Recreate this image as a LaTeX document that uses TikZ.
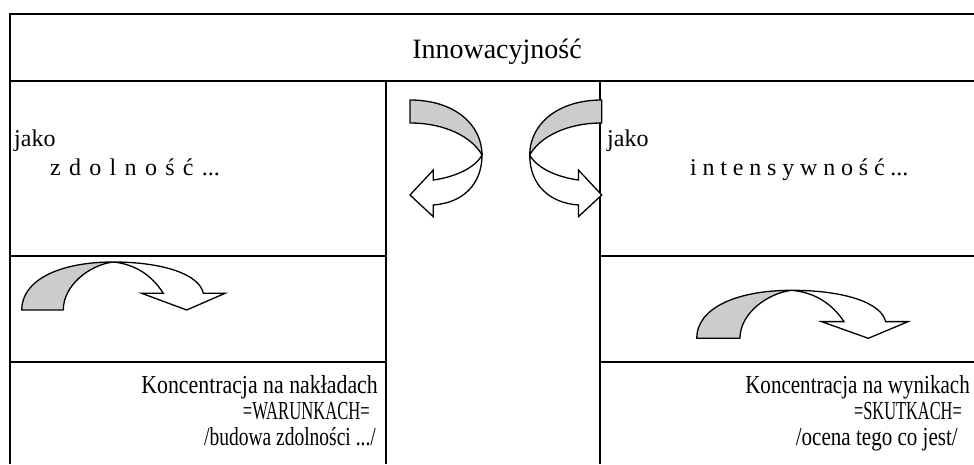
\documentclass[tikz,border=0pt]{standalone}
\usepackage{fontspec}
\usepackage{graphicx}
\setmainfont{Liberation Serif}
\definecolor{bandgray}{RGB}{204,204,204}
\tikzset{
  frame/.style={line width=2pt},
  grayband/.style={fill=bandgray, draw=black, line width=1.3pt, line join=round},
  whiteband/.style={fill=white, draw=black, line width=1.3pt, line join=miter},
  titletxt/.style={inner sep=0pt, font=\fontsize{28}{30}\selectfont},
  jakotxt/.style={inner sep=0pt, font=\fontsize{24}{28}\selectfont},
  bottxt/.style={inner sep=0pt, anchor=base east, font=\fontsize{26}{29}\selectfont},
  cdarrow/.pic={
    \path[grayband] (0,0) .. controls (0,-30) and (38,-48) .. (91.3,-48)
       .. controls (68,-45) and (41.6,-25) .. (41.6,0) -- cycle;
    \path[whiteband] (91.3,-48) .. controls (143,-48) and (178,-35) .. (181.6,-16.7)
       -- (203.3,-16.7) -- (165,0) -- (120,-16.7) -- (141.6,-16.7)
       .. controls (130,-35) and (113,-46) .. (91.3,-48) -- cycle;
  },
  clarrow/.pic={
    \path[grayband] (0,0) .. controls (45,0) and (72,25) .. (72,55)
       .. controls (62,37) and (35,23) .. (0,23) -- cycle;
    \path[whiteband] (72,55) .. controls (72,85) and (52,103) .. (23.3,105)
       -- (23.3,116.7) -- (0,95) -- (23.3,70) -- (23.3,80)
       .. controls (45,77) and (65,68) .. (72,55) -- cycle;
  }
}
\begin{document}
\begin{tikzpicture}[x=1pt,y=-1pt]
\useasboundingbox (0,0) rectangle (974,464);
% table lines
\draw[frame] (10,464) -- (10,14) -- (974,14);
\draw[frame] (10,81) -- (974,81);
\draw[frame] (386,81) -- (386,464);
\draw[frame] (600,81) -- (600,464);
\draw[frame] (10,256) -- (386,256);
\draw[frame] (600,256) -- (974,256);
\draw[frame] (10,362) -- (386,362);
\draw[frame] (600,362) -- (974,362);
% title
\node[titletxt, anchor=base] (title) at (497,58) {Innowacyjność};
% upper cells
\node[jakotxt, anchor=base west] (jakoL) at (14,146) {jako};
\node[jakotxt, anchor=base west] (zdol) at (50,175) {\spaceskip=8.3pt z d o l n o ś ć ...};
\node[jakotxt, anchor=base west] (jakoR) at (607,146) {jako};
\node[jakotxt, anchor=base west] (inten) at (690,175) {\spaceskip=5.8pt i n t e n s y w n o ś ć ...};
% curved arrows in the middle
\pic (arrL) at (410,100) {clarrow};
\pic[xscale=-1] (arrR) at (601.7,100) {clarrow};
% curved arrows in the lower cells
\pic (arrBL) at (21.7,310) {cdarrow};
\pic[xscale=1.04] (arrBR) at (696.7,338.3) {cdarrow};
% bottom texts
\node[bottxt] (kl1) at (378,393) {\scalebox{0.84}[1]{Koncentracja na nakładach}};
\node[bottxt] (kl2) at (370,419) {\scalebox{0.64}[1]{=WARUNKACH=}};
\node[bottxt] (kl3) at (376,445) {\scalebox{0.75}[1]{/budowa zdolności .../}};
\node[bottxt] (kr1) at (970,393) {\scalebox{0.81}[1]{Koncentracja na wynikach}};
\node[bottxt] (kr2) at (962,419) {\scalebox{0.63}[1]{=SKUTKACH=}};
\node[bottxt] (kr3) at (958,445) {\scalebox{0.81}[1]{/ocena tego co jest/}};
\end{tikzpicture}
\end{document}
